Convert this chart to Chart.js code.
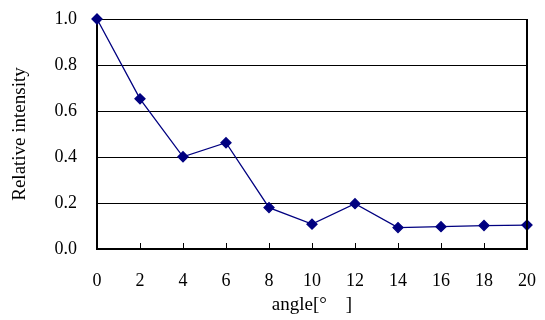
<!DOCTYPE html>
<html>
<head>
<meta charset="utf-8">
<script src="https://cdn.jsdelivr.net/npm/chart.js@4"></script>
<style>
  html, body { margin: 0; padding: 0; background: #fff; }
  #wrap { width: 545px; height: 320px; }
</style>
</head>
<body>
<div id="wrap"><canvas id="intensity" width="545" height="320"></canvas></div>
<script>
const angles = [0, 2, 4, 6, 8, 10, 12, 14, 16, 18, 20];
const intensity = [1.0, 0.653, 0.401, 0.462, 0.18, 0.108, 0.197, 0.093, 0.097, 0.102, 0.104];
const xTitle = "angle[°\u3000]";
const yTitle = "Relative intensity";

const serif = "'Liberation Serif', 'Times New Roman', serif";

// inward tick marks on the x axis and the right border of the plot
const frame = {
  id: "frame",
  afterDraw(chart) {
    const ctx = chart.ctx;
    const area = chart.chartArea;
    const xScale = chart.scales.x;
    ctx.save();
    ctx.strokeStyle = "#000";
    ctx.lineWidth = 1;
    xScale.ticks.forEach((t) => {
      const px = Math.round(xScale.getPixelForValue(t.value)) + 0.5;
      ctx.beginPath();
      ctx.moveTo(px, area.bottom);
      ctx.lineTo(px, area.bottom - 6);
      ctx.stroke();
    });
    ctx.lineWidth = 2;
    ctx.beginPath();
    ctx.moveTo(area.right, area.top);
    ctx.lineTo(area.right, area.bottom);
    ctx.stroke();
    ctx.restore();
  }
};

new Chart(document.getElementById("intensity"), {
  type: "line",
  data: {
    datasets: [{
      data: angles.map((a, i) => ({ x: a, y: intensity[i] })),
      borderColor: "#000080",
      backgroundColor: "#000080",
      borderWidth: 1.3,
      pointStyle: "rectRot",
      pointRadius: 5,
      tension: 0,
      clip: false
    }]
  },
  options: {
    responsive: false,
    animation: false,
    layout: { padding: { top: 19, right: 18, left: 0, bottom: 0 } },
    plugins: { legend: { display: false }, tooltip: { enabled: false } },
    scales: {
      x: {
        type: "linear",
        min: 0,
        max: 20,
        afterFit: (s) => { s.height = 71; s.paddingLeft = 0; s.paddingRight = 0; },
        ticks: { stepSize: 2, color: "#000", padding: 21, font: { family: serif, size: 18 } },
        grid: { display: false, drawTicks: false },
        border: { color: "#000", width: 2 },
        title: { display: true, text: xTitle, color: "#000", padding: { top: 3 }, font: { family: serif, size: 19 } }
      },
      y: {
        min: 0,
        max: 1.0,
        afterFit: (s) => { s.width = 97; s.paddingTop = 0; s.paddingBottom = 0; },
        ticks: {
          stepSize: 0.2,
          color: "#000",
          padding: 20,
          font: { family: serif, size: 18 },
          callback: (v) => v.toFixed(1)
        },
        grid: { color: "#000", lineWidth: 1, drawTicks: false },
        border: { color: "#000", width: 2 },
        title: { display: true, text: yTitle, color: "#000", padding: { top: 9 }, font: { family: serif, size: 19 } }
      }
    }
  },
  plugins: [frame]
});
</script>
</body>
</html>
